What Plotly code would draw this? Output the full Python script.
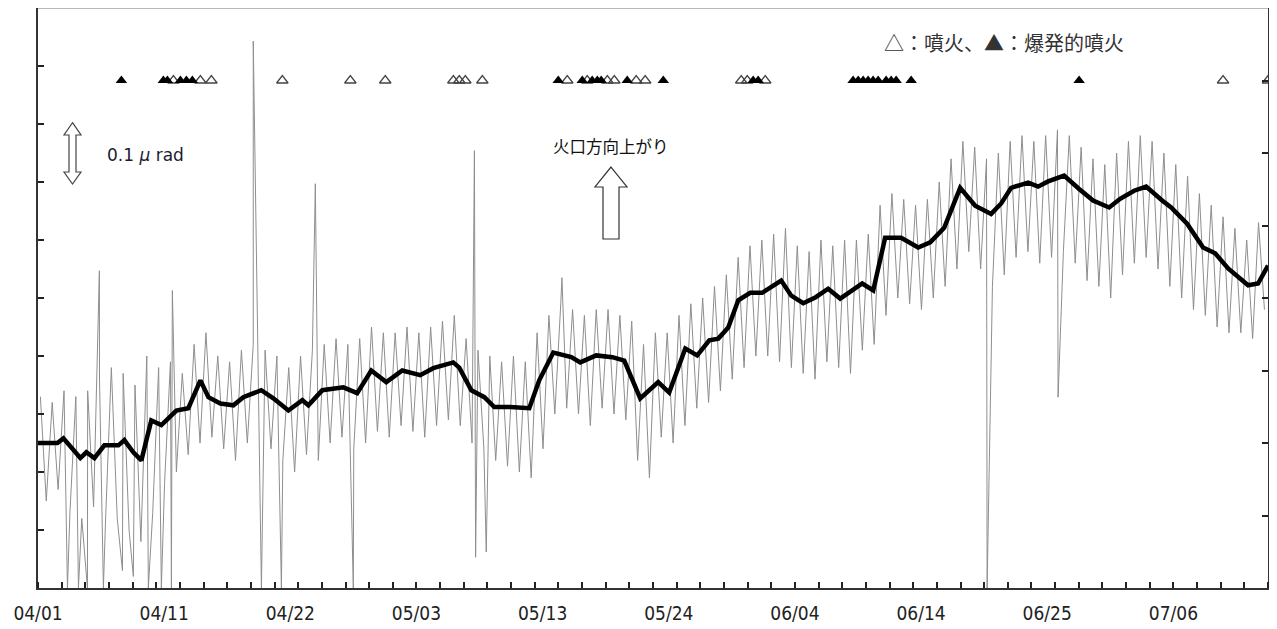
import plotly.graph_objects as go

# ---------------- data ----------------
# x unit: days since 04/01 00:00 ; y unit: micro-radian (0.1 per tick)

# smoothed tilt (thick black line)
smooth_day = [0.00, 1.64, 2.15, 2.82, 3.58, 4.09, 4.77, 5.61, 6.80, 7.30, 8.06, 8.74,
              9.58, 10.43, 11.70, 12.71, 13.73, 14.41, 15.42, 16.52, 17.36, 18.88,
              19.90, 21.17, 22.35, 22.86, 24.04, 25.82, 26.99, 28.18, 29.45, 30.80,
              32.32, 33.42, 35.11, 35.62, 36.64, 37.74, 38.58, 39.93, 41.54, 42.38,
              43.57, 45.09, 45.85, 47.20, 48.56, 49.57, 50.92, 52.44, 53.37, 54.73,
              55.74, 56.76, 57.52, 58.36, 59.21, 60.22, 61.23, 62.84, 63.69, 64.70,
              65.72, 66.81, 67.83, 69.69, 70.62, 71.63, 72.98, 74.42, 75.44, 76.62,
              77.97, 79.24, 80.59, 81.44, 82.28, 83.72, 84.56, 85.41, 86.76, 88.03,
              89.21, 90.57, 91.50, 92.68, 93.70, 95.05, 95.81, 97.16, 98.51, 99.53,
              100.63, 102.32, 103.16, 104.00]
smooth_val = [0.250, 0.250, 0.258, 0.243, 0.224, 0.234, 0.224, 0.246, 0.246, 0.255, 0.234, 0.220,
              0.289, 0.281, 0.306, 0.310, 0.358, 0.329, 0.318, 0.315, 0.329, 0.341,
              0.327, 0.306, 0.324, 0.315, 0.341, 0.346, 0.336, 0.375, 0.355, 0.375,
              0.367, 0.379, 0.389, 0.380, 0.341, 0.329, 0.312, 0.312, 0.310, 0.358,
              0.406, 0.398, 0.389, 0.401, 0.398, 0.392, 0.327, 0.355, 0.337, 0.413,
              0.401, 0.427, 0.430, 0.449, 0.496, 0.509, 0.509, 0.530, 0.504, 0.491,
              0.501, 0.516, 0.499, 0.525, 0.513, 0.604, 0.604, 0.587, 0.596, 0.621,
              0.690, 0.659, 0.645, 0.663, 0.690, 0.699, 0.692, 0.701, 0.711, 0.688,
              0.668, 0.656, 0.671, 0.685, 0.692, 0.668, 0.656, 0.628, 0.587, 0.577,
              0.551, 0.522, 0.525, 0.556]

# raw hourly tilt (thin gray line): daily high and low, days 0..103
raw_peak = [0.33, 0.32, 0.34, 0.33, 0.34, 0.36, 0.38, 0.37, 0.35, 0.40,
            0.38, 0.39, 0.37, 0.42, 0.44, 0.40, 0.39, 0.41, 0.42, 0.41,
            0.40, 0.38, 0.40, 0.41, 0.42, 0.43, 0.42, 0.43, 0.45, 0.44,
            0.44, 0.45, 0.44, 0.45, 0.46, 0.47, 0.43, 0.41, 0.40, 0.39,
            0.40, 0.39, 0.44, 0.47, 0.49, 0.48, 0.47, 0.48, 0.48, 0.47,
            0.46, 0.42, 0.44, 0.44, 0.47, 0.49, 0.50, 0.52, 0.54, 0.57,
            0.59, 0.60, 0.61, 0.62, 0.59, 0.58, 0.60, 0.59, 0.60, 0.60,
            0.61, 0.66, 0.68, 0.67, 0.66, 0.67, 0.70, 0.74, 0.77, 0.76,
            0.74, 0.75, 0.77, 0.78, 0.77, 0.78, 0.79, 0.78, 0.76, 0.74,
            0.73, 0.75, 0.77, 0.78, 0.77, 0.75, 0.73, 0.71, 0.68, 0.66,
            0.64, 0.62, 0.60, 0.63]
raw_trough = [0.15, 0.17, 0.13, 0.12, 0.14, 0.11, 0.12, 0.10, 0.08, 0.13,
              0.18, 0.20, 0.23, 0.25, 0.26, 0.24, 0.22, 0.25, 0.26, 0.24,
              0.22, 0.20, 0.23, 0.22, 0.25, 0.26, 0.24, 0.25, 0.27, 0.26,
              0.28, 0.27, 0.26, 0.28, 0.29, 0.28, 0.25, 0.24, 0.22, 0.21,
              0.20, 0.19, 0.24, 0.30, 0.31, 0.30, 0.28, 0.31, 0.30, 0.29,
              0.22, 0.19, 0.26, 0.25, 0.28, 0.31, 0.32, 0.34, 0.36, 0.38,
              0.40, 0.40, 0.39, 0.38, 0.37, 0.36, 0.39, 0.38, 0.37, 0.41,
              0.42, 0.47, 0.50, 0.49, 0.48, 0.50, 0.52, 0.55, 0.58, 0.55,
              0.52, 0.54, 0.57, 0.58, 0.56, 0.57, 0.58, 0.56, 0.53, 0.52,
              0.50, 0.54, 0.56, 0.57, 0.55, 0.52, 0.50, 0.48, 0.47, 0.45,
              0.44, 0.44, 0.43, 0.48]

# single-hour spikes in the raw record
spike_day = [2.49, 3.42, 4.18, 5.19, 5.53, 7.14, 8.06, 9.33, 10.43, 11.28, 11.36,
             18.20, 18.89, 20.58, 23.45, 26.66, 36.90, 37.00, 37.90, 44.30, 80.25, 86.25]
spike_val = [0.00, 0.00, 0.00, 0.547, 0.00, 0.03, 0.02, 0.00, 0.00, 0.00, 0.513,
             0.943, 0.00, 0.00, 0.697, 0.00, 0.754, 0.053, 0.062, 0.535, 0.00, 0.329]

# eruptions (open triangle) and explosive eruptions (filled triangle)
eruption_day = [11.45, 13.73, 14.66, 20.66, 26.41, 29.36, 35.12, 35.62, 36.13, 37.57,
                44.75, 46.44, 48.14, 48.73, 50.58, 51.34, 59.46, 59.97, 61.49, 100.2, 104.0]
explosive_day = [7.05, 10.60, 10.94, 12.04, 12.55, 13.05, 43.99, 46.02, 46.86, 47.29,
                 47.62, 49.82, 52.87, 60.47, 60.89, 68.92, 69.35, 69.77, 70.19, 70.61,
                 71.04, 71.71, 72.14, 72.56, 73.83, 88.03]

tick_hours = [0, 256, 512, 768, 1024, 1280, 1536, 1792, 2048, 2304]
tick_text = ["04/01", "04/11", "04/22", "05/03", "05/13", "05/24", "06/04", "06/14", "06/25", "07/06"]

# ---------------- build ----------------
pts = []
for d in range(len(raw_peak)):
    pts.append((d + 0.2, raw_peak[d]))
    pts.append((d + 0.7, raw_trough[d]))
pts += list(zip(spike_day, spike_val))
pts.sort(key=lambda p: p[0])
raw_x = [p[0] for p in pts]
raw_y = [p[1] for p in pts]

# page has an 8px body margin -> figure placed at (8, 8)
OFF = 8
W, H = 1277 - OFF, 629 - OFF
L, R, T, B = 38 - OFF, 1268 - OFF, 0, 588 - OFF   # plot area in figure px


def px(x):           # page px -> paper
    return (x - OFF - L) / (R - L)


def py(y):
    return (B - (y - OFF)) / (B - T)


fig = go.Figure()
fig.add_trace(go.Scatter(x=raw_x, y=raw_y, mode="lines",
                         line=dict(color="#8e8e8e", width=1), hoverinfo="skip"))
fig.add_trace(go.Scatter(x=smooth_day, y=smooth_val, mode="lines",
                         line=dict(color="black", width=4.5)))
fig.add_trace(go.Scatter(x=eruption_day, y=[7] * len(eruption_day), yaxis="y2",
                         mode="markers", cliponaxis=False,
                         marker=dict(symbol="triangle-up-open", size=10,
                                     color="#444", line=dict(width=1.3, color="#444"))))
fig.add_trace(go.Scatter(x=explosive_day, y=[7] * len(explosive_day), yaxis="y2",
                         mode="markers", cliponaxis=False,
                         marker=dict(symbol="triangle-up", size=10, color="black",
                                     line=dict(width=0))))


def path(points):
    return "M " + " L ".join(f"{px(a):.5f} {py(b):.5f}" for a, b in points) + " Z"


# double-headed scale arrow (0.1 micro-rad) and up arrow, page px
dbl = [(72.5, 122.7), (81, 135), (76, 135), (76, 172), (81, 172), (72.5, 184),
       (64, 172), (69, 172), (69, 135), (64, 135)]
up = [(611, 167), (627, 187), (619, 187), (619, 239), (603, 239), (603, 187), (595, 187)]

shapes = [
    dict(type="path", xref="paper", yref="paper", path=path(dbl),
         line=dict(color="#444", width=1.2), fillcolor="white"),
    dict(type="path", xref="paper", yref="paper", path=path(up),
         line=dict(color="#333", width=1.2), fillcolor="white"),
    dict(type="line", xref="paper", yref="paper", x0=0, x1=1, y0=1, y1=1,
         line=dict(color="#777", width=1.2)),
]

annotations = [
    dict(xref="paper", yref="paper", x=px(105), y=py(155), xanchor="left", yanchor="middle",
         text="0.1 <i>μ</i> rad", showarrow=False,
         font=dict(family="DejaVu Sans, sans-serif", size=17, color="#1c1c30")),
    dict(xref="paper", yref="paper", x=px(611), y=py(146), xanchor="center", yanchor="middle",
         text="火口方向上がり", showarrow=False,
         font=dict(family="Noto Sans CJK JP", size=16.5, color="#111")),
    dict(xref="paper", yref="paper", x=px(1004), y=py(42), xanchor="center", yanchor="middle",
         text="△：噴火、▲：爆発的噴火", showarrow=False,
         font=dict(family="Noto Sans CJK JP", size=20, color="#333")),
]

fig.update_layout(
    width=W, height=H,
    margin=dict(l=L, r=W - R, t=T, b=H - B, pad=0),
    paper_bgcolor="white", plot_bgcolor="white",
    showlegend=False,
    shapes=shapes, annotations=annotations,
    xaxis=dict(range=[0, 104], showgrid=False, zeroline=False,
               showline=True, linecolor="#333", linewidth=2,
               tickmode="array", tickvals=[h / 24 for h in tick_hours], ticktext=tick_text,
               ticks="", ticklabelstandoff=7,
               tickfont=dict(family="DejaVu Sans Condensed, Liberation Sans Narrow, sans-serif",
                             size=19, color="#222"),
               minor=dict(tickmode="linear", tick0=0, dtick=2, ticks="inside", ticklen=6,
                          tickwidth=1.5, tickcolor="#222", showgrid=False)),
    yaxis=dict(range=[0, 1.0], showgrid=False, zeroline=False, showticklabels=False,
               showline=True, linecolor="#333", linewidth=2,
               tickmode="linear", tick0=0, dtick=0.1, ticks="inside", ticklen=6,
               tickwidth=1.5, tickcolor="#222"),
    yaxis2=dict(range=[0, 8], overlaying="y", side="right", showgrid=False, zeroline=False,
                showticklabels=False, showline=True, linecolor="#333", linewidth=1.5,
                tickmode="linear", tick0=0, dtick=1, ticks="inside", ticklen=6,
                tickwidth=1.5, tickcolor="#222"),
)

fig.write_html("out.html")
